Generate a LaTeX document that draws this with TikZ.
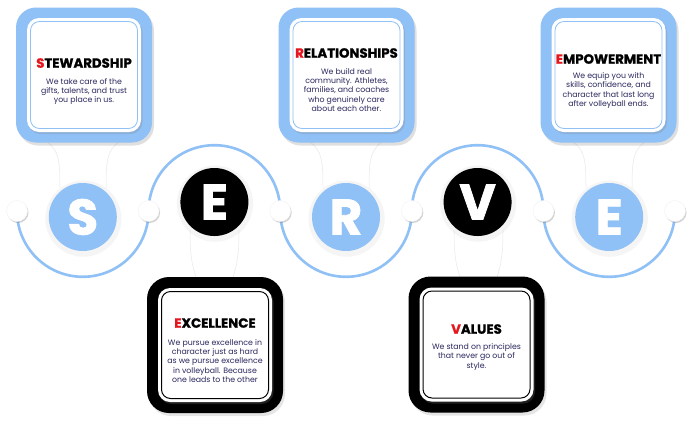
\documentclass[tikz,border=0pt]{standalone}
\usepackage{fontspec}
\setmainfont{Poppins}
\usepackage{tikz}
\usetikzlibrary{shadows,positioning,calc}
\definecolor{serveblue}{HTML}{8FC0F6}
\definecolor{servered}{HTML}{E5161D}
\definecolor{servenavy}{HTML}{2A285E}
\newcommand\firstred[1]{\textcolor{servered}{#1}}

\begin{document}
\begin{tikzpicture}[x=1pt, y=-1pt]
	\tikzstyle{bluebox} = [fill=serveblue, rounded corners=20pt, minimum width=136, minimum height=135, drop shadow={opacity=0.25, shadow xshift=2pt, shadow yshift=-3pt}]
	\tikzstyle{blackbox} = [fill=black, rounded corners=22pt, minimum width=136, minimum height=136, drop shadow={opacity=0.2, shadow xshift=2pt, shadow yshift=-3pt}]
	\tikzstyle{paper} = [fill=white, rounded corners=12pt, minimum width=114, minimum height=114, drop shadow={opacity=0.25, shadow xshift=1.5pt, shadow yshift=-2pt}]
	\tikzstyle{bluerim} = [draw=serveblue, line width=0.8pt, rounded corners=9pt, minimum width=107, minimum height=107]
	\tikzstyle{blackrim} = [draw=black, line width=1pt, rounded corners=9pt, minimum width=107, minimum height=107]
	\tikzstyle{headtxt} = [font=\fontsize{13.3}{15}\selectfont\bfseries\addfontfeatures{FakeBold=1.2}, inner sep=0]
	\tikzstyle{bodytxt} = [font=\fontsize{7.8}{9.2}\selectfont, text=servenavy, align=center, inner sep=0]
	\tikzstyle{joint} = [circle, fill=white, draw=black!5, line width=0.4pt, minimum size=21, inner sep=0, drop shadow={opacity=0.35, shadow xshift=1pt, shadow yshift=-1.5pt}]
	\tikzstyle{letter} = [circle, minimum size=68, inner sep=0, text=white, font=\fontsize{50}{50}\selectfont\bfseries\addfontfeatures{FakeBold=1.5}, drop shadow={opacity=0.08, shadow scale=1.12, shadow xshift=0.5pt, shadow yshift=-1.5pt}]
	\tikzstyle{arcline} = [draw=serveblue, line width=2.6pt]
	\tikzstyle{neck} = [draw=black!9, line width=0.5pt]

\path[fill=white, use as bounding box] (0,0) rectangle (700,424);

% faint necks between circles and cards
\foreach \cx in {83, 346, 609} {
	\path[neck] (\cx-36,142) .. controls (\cx-24,150) and (\cx-23,162) .. (\cx-23,188);
	\path[neck] (\cx+36,142) .. controls (\cx+24,150) and (\cx+23,162) .. (\cx+23,188);
}
\foreach \cx in {214, 478} {
	\path[neck] (\cx-24,230) .. controls (\cx-24,255) and (\cx-22,265) .. (\cx-18,277);
	\path[neck] (\cx+25,230) .. controls (\cx+25,255) and (\cx+23,265) .. (\cx+19,277);
}

% joints
\foreach \i in {0,...,5}
	\coordinate (p\i) at ({17+131.6*\i},211);

	\path[arcline] (p0) arc[start angle=180, end angle=0, radius=65.8];
	\path[arcline] (p1) arc[start angle=180, end angle=360, radius=65.8];
	\path[arcline] (p2) arc[start angle=180, end angle=0, radius=65.8];
	\path[arcline] (p3) arc[start angle=180, end angle=360, radius=65.8];
	\path[arcline] (p4) arc[start angle=180, end angle=0, radius=65.8];

\foreach \i in {0,...,5}
	\node[joint] (j\i) at (p\i) {};

% letters
\node[letter, fill=serveblue] (s) at (82.8,217) {S};
\node[letter, fill=black] (e1) at (214.4,202) {E};
\node[letter, fill=serveblue] (r) at (346,217) {R};
\node[letter, fill=black] (v) at (477.6,202) {V};
\node[letter, fill=serveblue] (e2) at (609.2,217) {E};

% top cards
\node[bluebox] (stw) at (84,75) {};
\node[paper] at (stw) {};
\node[bluerim] at (stw) {};
\node[headtxt] (stwT) at (84,63) {\firstred{S}TEWARDSHIP};
\node[bodytxt] (stwB) at (84,91.5) {We take care of the\\gifts, talents, and trust\\you place in us.};

\node[bluebox] (rel) at (346.5,75) {};
\node[paper] at (rel) {};
\node[bluerim] at (rel) {};
\node[headtxt] (relT) at (346.5,53) {\firstred{R}ELATIONSHIPS};
\node[bodytxt] (relB) at (346.5,90) {We build real\\community. Athletes,\\families, and coaches\\who genuinely care\\about each other.};

\node[bluebox] (emp) at (608.5,75) {};
\node[paper] at (emp) {};
\node[bluerim] at (emp) {};
\node[headtxt] (empT) at (608.5,59) {\firstred{E}MPOWERMENT};
\node[bodytxt] (empB) at (608.5,90.5) {We equip you with\\skills, confidence, and\\character that last long\\after volleyball ends.};

% bottom cards
\node[blackbox] (exc) at (215,345) {};
\node[paper] at (exc) {};
\node[blackrim] at (exc) {};
\node[headtxt] (excT) at (215,323) {\firstred{E}XCELLENCE};
\node[bodytxt] (excB) at (215,361) {We pursue excellence in\\character just as hard\\as we pursue excellence\\in volleyball. Because\\one leads to the other};

\node[blackbox] (val) at (476.5,344.5) {};
\node[paper] at (val) {};
\node[blackrim] at (val) {};
\node[headtxt] (valT) at (476.5,329) {\firstred{V}ALUES};
\node[bodytxt] (valB) at (476.5,357) {We stand on principles\\that never go out of\\style.};
\end{tikzpicture}
\end{document}
